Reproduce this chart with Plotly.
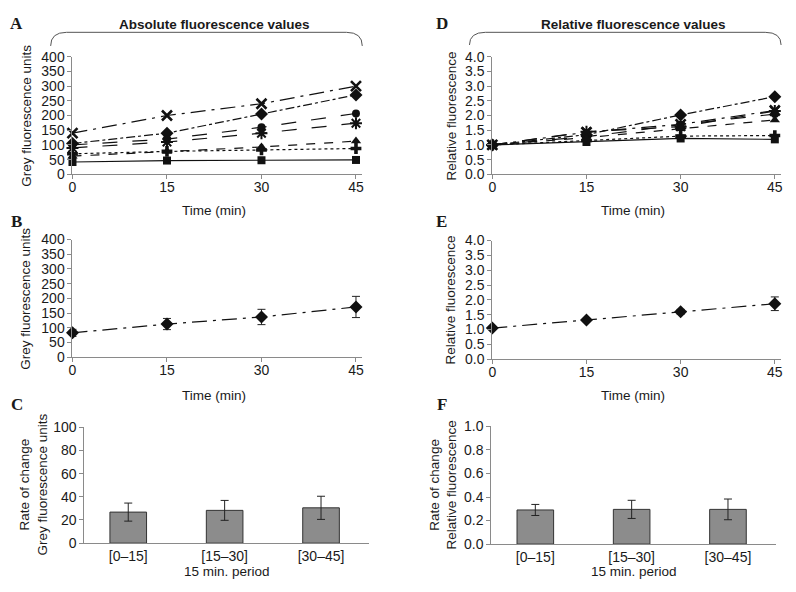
import plotly.graph_objects as go

W, H = 796, 592

# ---------------- data ----------------
time = [0, 15, 30, 45]

# Panel A: absolute grey fluorescence units, seven series
abs_x = [140, 200, 240, 300]
abs_diamond = [105, 140, 205, 270]
abs_circle = [100, 120, 160, 207]
abs_asterisk = [90, 110, 140, 174]
abs_triangle = [62, 78, 93, 113]
abs_plus = [70, 78, 83, 88]
abs_square = [42, 47, 48, 49]

# Panel D: relative fluorescence
rel_x = [1.0, 1.43, 1.70, 2.17]
rel_diamond = [1.0, 1.35, 2.02, 2.64]
rel_circle = [1.0, 1.28, 1.69, 2.05]
rel_asterisk = [1.0, 1.45, 1.62, 2.15]
rel_triangle = [1.0, 1.25, 1.55, 1.85]
rel_plus = [1.0, 1.15, 1.30, 1.32]
rel_square = [1.0, 1.10, 1.22, 1.19]

# Panel B: mean absolute values
mean_abs = [83, 113, 137, 171]
mean_abs_err = [12, 19, 26, 36]

# Panel E: mean relative values
mean_rel = [1.05, 1.32, 1.60, 1.87]
mean_rel_err = [0.04, 0.05, 0.08, 0.23]

# Panels C / F: rate of change per 15 min period
periods = ["[0\u201315]", "[15\u201330]", "[30\u201345]"]
rate_abs = [26.8, 28.3, 30.5]
rate_abs_err = [7.8, 8.6, 10.0]
rate_rel = [0.29, 0.295, 0.295]
rate_rel_err = [0.047, 0.077, 0.088]

# ---------------- helpers ----------------
def fx(px):
    return px / W

def fy(py):
    return 1 - py / H

FONT = "Liberation Sans, Arial, sans-serif"
AXIS_COLOR = "#8a8a8a"
TXT = "#1a1a1a"

series_styles = [
    ("x", dict(symbol="x-thin-open", size=10, line=dict(width=2.6, color="#111")), "longdashdot"),
    ("diamond", dict(symbol="diamond", size=10, color="#111"), "dashdot"),
    ("circle", dict(symbol="circle", size=8, color="#111"), "longdash"),
    ("asterisk", dict(symbol="asterisk-open", size=10, line=dict(width=2, color="#111")), "longdash"),
    ("triangle", dict(symbol="triangle-up", size=9, color="#111"), "dash"),
    ("plus", dict(symbol="cross", size=9, color="#111"), "dot"),
    ("square", dict(symbol="square", size=8, color="#111"), "solid"),
]
abs_series = [abs_x, abs_diamond, abs_circle, abs_asterisk, abs_triangle, abs_plus, abs_square]
rel_series = [rel_x, rel_diamond, rel_circle, rel_asterisk, rel_triangle, rel_plus, rel_square]

fig = go.Figure()

for (name, mk, dash), vals in zip(series_styles, abs_series):
    fig.add_trace(go.Scatter(x=time, y=vals, mode="lines+markers", name=name,
                             line=dict(color="#111", width=1.2, dash=dash),
                             marker=mk, cliponaxis=False, xaxis="x", yaxis="y"))
for (name, mk, dash), vals in zip(series_styles, rel_series):
    fig.add_trace(go.Scatter(x=time, y=vals, mode="lines+markers", name=name,
                             line=dict(color="#111", width=1.2, dash=dash),
                             marker=mk, cliponaxis=False, xaxis="x4", yaxis="y4"))

fig.add_trace(go.Scatter(x=time, y=mean_abs, mode="lines+markers",
                         line=dict(color="#111", width=1.2, dash="longdashdot"),
                         marker=dict(symbol="diamond", size=10, color="#111"),
                         error_y=dict(type="data", array=mean_abs_err, color="#222", thickness=1, width=4),
                         cliponaxis=False, xaxis="x2", yaxis="y2"))
fig.add_trace(go.Scatter(x=time, y=mean_rel, mode="lines+markers",
                         line=dict(color="#111", width=1.2, dash="longdashdot"),
                         marker=dict(symbol="diamond", size=10, color="#111"),
                         error_y=dict(type="data", array=mean_rel_err, color="#222", thickness=1, width=4),
                         cliponaxis=False, xaxis="x5", yaxis="y5"))

fig.add_trace(go.Bar(x=periods, y=rate_abs, width=0.38,
                     marker=dict(color="#8c8c8c", line=dict(color="#333", width=1)),
                     error_y=dict(type="data", array=rate_abs_err, color="#222", thickness=1, width=4),
                     xaxis="x3", yaxis="y3"))
fig.add_trace(go.Bar(x=periods, y=rate_rel, width=0.38,
                     marker=dict(color="#8c8c8c", line=dict(color="#333", width=1)),
                     error_y=dict(type="data", array=rate_rel_err, color="#222", thickness=1, width=4),
                     xaxis="x6", yaxis="y6"))

tickfont = dict(family=FONT, size=14, color=TXT)

def xax(x0, x1, anchor, **kw):
    d = dict(domain=[fx(x0), fx(x1)], anchor=anchor, showline=True, linecolor=AXIS_COLOR,
             linewidth=1, showgrid=False, zeroline=False, ticks="outside", ticklen=4,
             tickcolor=AXIS_COLOR, tickfont=tickfont, fixedrange=True)
    d.update(kw)
    return d

def yax(y0, y1, anchor, **kw):
    d = dict(domain=[fy(y1), fy(y0)], anchor=anchor, showline=True, linecolor=AXIS_COLOR,
             linewidth=1, showgrid=False, zeroline=False, ticks="outside", ticklen=4,
             tickcolor=AXIS_COLOR, tickfont=tickfont, fixedrange=True)
    d.update(kw)
    return d

time_ticks = dict(tickvals=time, range=[0, 46], ticklabelstandoff=-4)

layout = dict(
    width=W, height=H, margin=dict(l=0, r=0, t=0, b=0),
    paper_bgcolor="white", plot_bgcolor="white", showlegend=False,
    font=dict(family=FONT, color=TXT),
    xaxis=xax(69, 361, "y", **time_ticks),
    yaxis=yax(50, 171, "x", range=[0, 400], dtick=50),
    xaxis2=xax(69, 361, "y2", **time_ticks),
    yaxis2=yax(238, 359, "x2", range=[0, 400], dtick=50),
    xaxis3=xax(81, 368, "y3", range=[-0.455, 2.5], ticks="", type="category"),
    yaxis3=yax(431, 550, "x3", range=[0, 100], dtick=20),
    xaxis4=xax(492, 783, "y4", **time_ticks),
    yaxis4=yax(50, 171, "x4", range=[0, 4], dtick=0.5, tickformat=".1f"),
    xaxis5=xax(492, 783, "y5", **time_ticks),
    yaxis5=yax(239, 361, "x5", range=[0, 4], dtick=0.5, tickformat=".1f"),
    xaxis6=xax(491, 778, "y6", range=[-0.457, 2.5], ticks="", type="category"),
    yaxis6=yax(430, 551, "x6", range=[0, 1], dtick=0.2, tickformat=".1f"),
)

ann = []

def text(px, py, s, size=13.5, bold=False, angle=0, family=FONT, xanchor="center"):
    ann.append(dict(x=fx(px), y=fy(py), xref="paper", yref="paper", text=s, showarrow=False,
                    textangle=angle, xanchor=xanchor, yanchor="middle",
                    font=dict(family=family, size=size, color=TXT,
                              weight="bold" if bold else "normal")))

SERIF = "Liberation Serif, Times New Roman, serif"
for letter, px, py in [("A", 13, 16), ("B", 13, 219), ("C", 13, 408),
                       ("D", 441, 16), ("E", 441, 219), ("F", 441, 407)]:
    text(px, py, letter, size=17, bold=True, family=SERIF)

text(212, 17, "Absolute fluorescence values", size=13.5, bold=True)
text(634, 17, "Relative fluorescence values", size=13.5, bold=True)

text(212, 208, "Time (min)")
text(212, 398, "Time (min)")
text(634, 208, "Time (min)")
text(634, 398, "Time (min)")
text(225, 579, "15 min. period")
text(635, 579, "15 min. period")

text(22, 111, "Grey fluorescence units", angle=-90)
text(22, 299, "Grey fluorescence units", angle=-90)
text(450, 111, "Relative fluorescence", angle=-90)
text(450, 300, "Relative fluorescence", angle=-90)
text(30, 490, "Rate of change<br>Grey fluorescence units", angle=-90)
text(443, 490, "Rate of change<br>Relative fluorescence", angle=-90)

layout["annotations"] = ann

def bracket(x0, x1, ytop, ybot, r=16):
    return dict(type="path", xref="paper", yref="paper",
                path=(f"M {fx(x0)},{fy(ybot)} Q {fx(x0)},{fy(ytop)} {fx(x0 + r)},{fy(ytop)} "
                      f"L {fx(x1 - r)},{fy(ytop)} Q {fx(x1)},{fy(ytop)} {fx(x1)},{fy(ybot)}"),
                line=dict(color="#555", width=1))

layout["shapes"] = [bracket(47, 361, 25, 39), bracket(469, 783, 25, 38)]

fig.update_layout(**layout)

post = ("document.body.style.margin='0';document.body.style.padding='0';"
        "document.documentElement.style.overflow='hidden';")
fig.write_html("out.html", post_script=post, config={"displayModeBar": False})
